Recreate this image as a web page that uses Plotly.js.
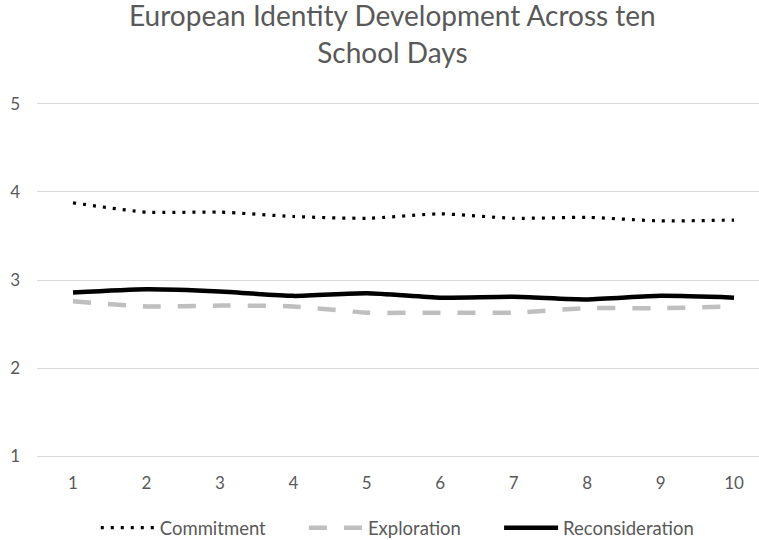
<!DOCTYPE html>
<html>
<head>
<meta charset="utf-8">
<script src="https://cdn.plot.ly/plotly-3.0.1.min.js"></script>
<style>html,body{margin:0;padding:0;background:#fff;}#chart{width:759px;height:540px;}</style>
</head>
<body>
<div id="chart"></div>
<script>
const days = [1, 2, 3, 4, 5, 6, 7, 8, 9, 10];
const dayLabels = ["1", "2", "3", "4", "5", "6", "7", "8", "9", "10"];
const seriesNames = ["Commitment", "Exploration", "Reconsideration"];
const commitment = [3.875, 3.77, 3.77, 3.72, 3.70, 3.75, 3.70, 3.71, 3.67, 3.68];
const exploration = [2.76, 2.70, 2.71, 2.70, 2.63, 2.63, 2.63, 2.68, 2.68, 2.70];
const reconsideration = [2.857, 2.895, 2.87, 2.82, 2.85, 2.80, 2.81, 2.78, 2.82, 2.80];

const font = "Lato, 'Open Sans', sans-serif";
const pad = "\u00A0\u00A0\u00A0\u00A0\u00A0\u00A0\u00A0";

const traces = [
  {x: days, y: commitment, name: seriesNames[0] + pad, type: "scatter", mode: "lines",
   line: {color: "#000000", width: 3.2, dash: "3px,7px", shape: "spline", smoothing: 0.6}},
  {x: days, y: exploration, name: seriesNames[1] + pad, type: "scatter", mode: "lines",
   line: {color: "#BFBFBF", width: 4.5, dash: "18px,17px", shape: "spline", smoothing: 0.6}},
  {x: days, y: reconsideration, name: seriesNames[2], type: "scatter", mode: "lines",
   line: {color: "#000000", width: 4.5, shape: "spline", smoothing: 0.6}}
];

const layout = {
  width: 759, height: 540,
  paper_bgcolor: "#ffffff", plot_bgcolor: "#ffffff",
  margin: {l: 37, r: 0, t: 101.4, b: 80.7, autoexpand: false},
  font: {family: font, color: "#595959", size: 17},
  title: {text: "European Identity Development Across ten<br>School Days",
          font: {family: font, size: 28, color: "#595959"},
          x: 0.517, xanchor: "center", y: 0.951, yanchor: "top"},
  xaxis: {range: [0.51, 10.34], tickmode: "array", tickvals: days, ticktext: dayLabels,
          showgrid: false, zeroline: false, showline: false, ticks: "",
          ticklabelstandoff: 12, fixedrange: true, automargin: false,
          tickfont: {family: font, size: 17, color: "#595959"}},
  yaxis: {range: [0.97, 5.03], tickvals: [1, 2, 3, 4, 5], showgrid: true, gridcolor: "#D9D9D9",
          gridwidth: 1, zeroline: false, showline: false, ticks: "",
          ticklabelstandoff: 16, fixedrange: true, automargin: false,
          tickfont: {family: font, size: 17, color: "#595959"}},
  showlegend: true,
  legend: {orientation: "h", x: 0.499, xanchor: "center", yref: "container", y: 0.022, yanchor: "middle",
           itemwidth: 54, font: {family: font, size: 18.5, color: "#595959"},
           traceorder: "normal"}
};

Plotly.newPlot("chart", traces, layout, {displayModeBar: false, staticPlot: true});
</script>
</body>
</html>
